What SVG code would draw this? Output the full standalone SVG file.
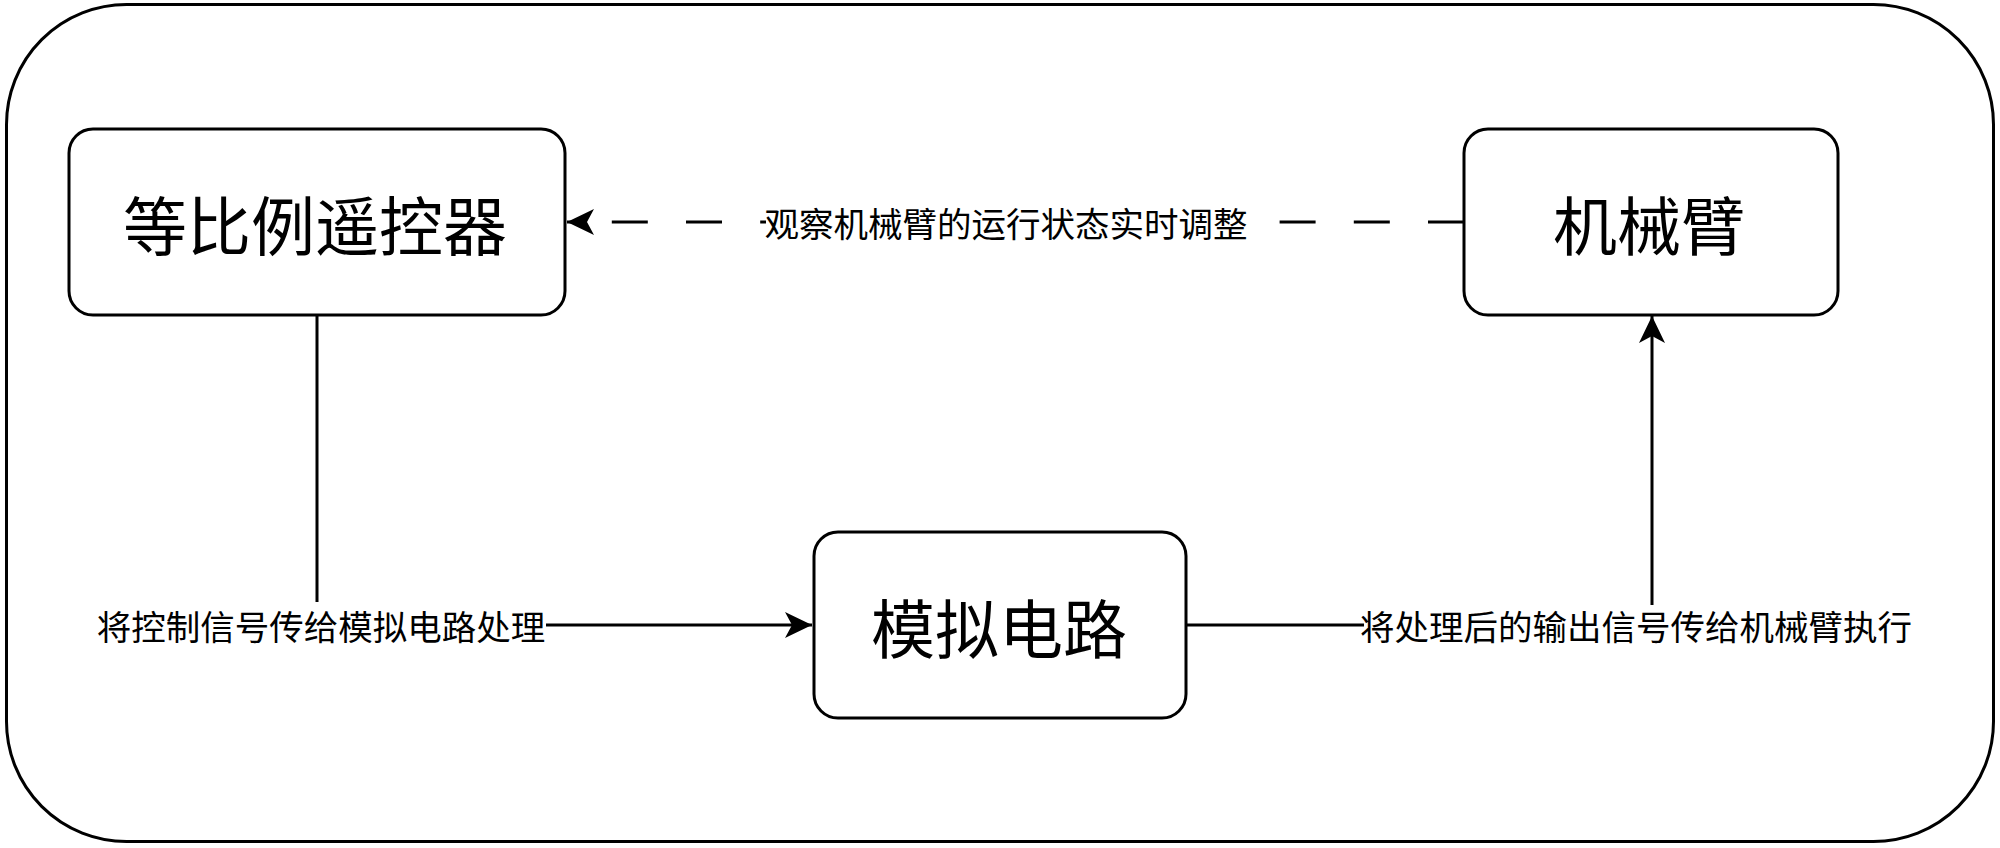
<svg xmlns="http://www.w3.org/2000/svg" width="2000" height="848" viewBox="0 0 2000 848">
<style>
.frame{fill:#ffffff;stroke:#000000;stroke-width:3}
.node{fill:#ffffff;stroke:#000000;stroke-width:3}
.big{font-family:"Noto Sans CJK SC",sans-serif;font-size:64px;fill:#000000;text-anchor:middle;dominant-baseline:central}
.lbl{font-family:"Noto Sans CJK SC",sans-serif;font-size:34.5px;fill:#000000;text-anchor:middle;dominant-baseline:central}
.edge{fill:none;stroke:#000000;stroke-width:3}
.dash{stroke-dasharray:36 38.2}
.lblbg{fill:#ffffff;stroke:none}
</style>
<defs>
<marker id="arr" viewBox="0 0 28 28" refX="27" refY="14" markerWidth="28" markerHeight="28" orient="auto" markerUnits="userSpaceOnUse">
<path d="M27,14 L0,1 L7,14 L0,27 Z" fill="#000000"/>
</marker>
</defs>
<rect width="2000" height="848" fill="#ffffff"/>
<g id="container">
<rect class="frame" x="6.5" y="4.5" width="1987" height="837" rx="120" ry="120"/>
</g>
<g id="connectors">
<path class="edge dash" d="M1464,222 L567,222" marker-end="url(#arr)"/>
<path class="edge" d="M317,315 L317,625 L812,625" marker-end="url(#arr)"/>
<path class="edge" d="M1187,625 L1652,625 L1652,316" marker-end="url(#arr)"/>
<g id="label-feedback">
<rect class="lblbg" x="766" y="202" width="480" height="40"/>
<text class="lbl" x="1006" y="222">观察机械臂的运行状态实时调整</text>
</g>
<g id="label-control">
<rect class="lblbg" x="97" y="602" width="449" height="44"/>
<text class="lbl" x="321" y="625">将控制信号传给模拟电路处理</text>
</g>
<g id="label-output">
<rect class="lblbg" x="1364" y="605" width="546" height="42"/>
<text class="lbl" x="1636" y="625">将处理后的输出信号传给机械臂执行</text>
</g>
</g>
<g id="node-remote">
<rect class="node" x="69" y="129" width="496" height="186" rx="24" ry="24"/>
<text class="big" x="315" y="222">等比例遥控器</text>
</g>
<g id="node-arm">
<rect class="node" x="1464" y="129" width="374" height="186" rx="24" ry="24"/>
<text class="big" x="1649" y="222">机械臂</text>
</g>
<g id="node-analog">
<rect class="node" x="814" y="532" width="372" height="186" rx="24" ry="24"/>
<text class="big" x="999" y="625">模拟电路</text>
</g>
</svg>
